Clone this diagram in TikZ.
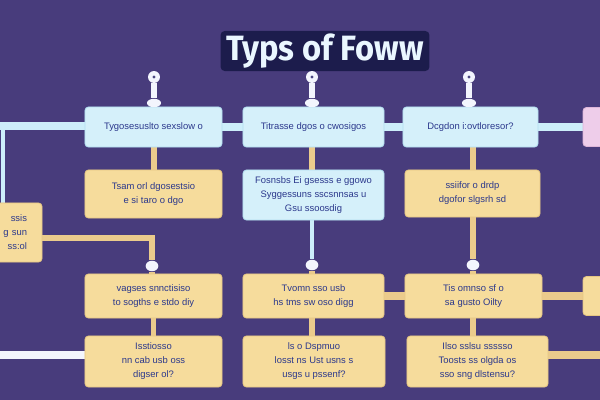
\documentclass[tikz,border=0pt]{standalone}
\usepackage{fontspec}
\usetikzlibrary{shapes.geometric}
\setmainfont{Liberation Sans}
\newfontfamily\headfont{Fira Sans}
\definecolor{bg}{HTML}{483C7C}
\definecolor{skyfill}{HTML}{D5F0FA}
\definecolor{skyedge}{HTML}{B2DDEF}
\definecolor{sandfill}{HTML}{F6DC9C}
\definecolor{sandedge}{HTML}{E6C683}
\definecolor{pinkfill}{HTML}{EECDEA}
\definecolor{pinkedge}{HTML}{DDB6D9}
\definecolor{tanlink}{HTML}{EBCB8C}
\definecolor{skylink}{HTML}{CDEEFA}
\definecolor{pinwhite}{HTML}{F3F5FD}
\definecolor{pindot}{HTML}{4A4680}
\definecolor{ink}{HTML}{2B388C}
\definecolor{headshade}{HTML}{1C1C4C}
\definecolor{headtext}{HTML}{EAF7FF}
\pgfdeclarelayer{canvas}
\pgfdeclarelayer{links}
\pgfsetlayers{canvas,links,main}
\begin{document}
\begin{tikzpicture}[x=0.025cm,y=-0.025cm,
  box/.style={rounded corners=2.5pt, align=center, text=ink, inner sep=1pt,
    line width=0.6pt, font=\fontsize{6.7}{10}\selectfont},
  skybox/.style={box, fill=skyfill, draw=skyedge},
  sandbox/.style={box, fill=sandfill, draw=sandedge},
  pinkbox/.style={box, fill=pinkfill, draw=pinkedge},
  tan/.style={draw=tanlink, line width=3.6pt},
  tanwide/.style={draw=tanlink, line width=5pt},
  sky/.style={draw=skylink, line width=5pt},
  skythin/.style={draw=skylink, line width=3pt},
  pinhead/.style={circle, fill=pinwhite, inner sep=0pt, minimum size=8.5pt,
    path picture={\fill[pindot] (path picture bounding box.center) circle (1.2pt);}},
  pinfoot/.style={ellipse, fill=pinwhite, inner sep=0pt, minimum width=10pt, minimum height=6pt},
  knob/.style={ellipse, fill=pinwhite, inner sep=0pt, minimum width=9pt, minimum height=7.5pt},
]
\useasboundingbox (0,0) rectangle (600,400);
\begin{pgfonlayer}{canvas}
  \fill[bg] (0,0) rectangle (600,400);
\end{pgfonlayer}

% heading
\node[fill=headshade, rounded corners=3pt, inner xsep=4pt, inner ysep=2pt,
      text=headtext, font=\headfont\bfseries\fontsize{25}{25}\selectfont] (title)
  at (325,51) {\scalebox{0.93}[1]{Typs of Foww}};

% first row
\node[skybox, minimum width=3.425cm, minimum height=1cm] (b11) at (153.5,127)
  {Tygosesuslto sexslow o};
\node[skybox, minimum width=3.525cm, minimum height=1cm] (b12) at (313.5,127)
  {Titrasse dgos o cwosigos};
\node[skybox, minimum width=3.375cm, minimum height=1cm] (b13) at (470.5,127)
  {Dcgdon i:ovtloresor?};
\node[pinkbox, minimum width=0.75cm, minimum height=0.975cm] (p1) at (598,127) {};

% second row
\node[sandbox, minimum width=3.425cm, minimum height=1.2cm] (b21) at (153.5,194)
  {Tsam orl dgosestsio\\e si taro o dgo};
\node[skybox, minimum width=3.525cm, minimum height=1.25cm] (b22) at (313.5,195)
  {Fosnsbs Ei gsesss e ggowo\\Syggessuns sscsnnsas u\\Gsu ssoosdig};
\node[sandbox, minimum width=3.375cm, minimum height=1.175cm] (b23) at (472.5,193.5)
  {ssiifor o drdp\\dgofor slgsrh sd};
% box running off the left edge, its text kept in the part that shows
\node[sandbox, align=right, text width=1.3cm, inner xsep=0.375cm,
      minimum height=1.475cm] (lb) at (1,232.5)
  {ssis\\g sun\\ss:ol};

% third row
\node[sandbox, minimum width=3.425cm, minimum height=1.1cm] (b31) at (153.5,296)
  {vagses snnctisiso\\to sogths e stdo diy};
\node[sandbox, minimum width=3.525cm, minimum height=1.1cm] (b32) at (313.5,296)
  {Tvomn sso usb\\hs tms sw oso digg};
\node[sandbox, minimum width=3.425cm, minimum height=1.1cm] (b33) at (473.5,296)
  {Tis omnso sf o\\sa gusto Oilty};
\node[sandbox, minimum width=0.75cm, minimum height=0.975cm] (r3) at (598,296) {};

% fourth row
\node[sandbox, minimum width=3.425cm, minimum height=1.275cm] (b41) at (153.5,361.5)
  {Isstiosso\\nn cab usb oss\\digser ol?};
\node[sandbox, minimum width=3.55cm, minimum height=1.275cm] (b42) at (314,361.5)
  {ls o Dspmuo\\losst ns Ust usns s\\usgs u pssenf?};
\node[sandbox, minimum width=3.525cm, minimum height=1.275cm] (b43) at (477.5,361.5)
  {Ilso sslsu ssssso\\Toosts ss olgda os\\sso sng dlstensu?};

% pins above the first row
\node[pinhead] (t1) at (154,77) {};
\node[pinhead] (t2) at (312,77) {};
\node[pinhead] (t3) at (469,77) {};
\node[pinfoot] (f1) at (154,103) {};
\node[pinfoot] (f2) at (312,103) {};
\node[pinfoot] (f3) at (469,103) {};

% knobs where links enter the third row
\node[knob] (k1) at (152,266) {};
\node[knob] (k2) at (312,265) {};
\node[knob] (k3) at (473,265) {};

% loose ends at the picture edges
\coordinate (cl) at (3,126);
\coordinate (e1) at (152,238);
\coordinate (w0) at (0,355);
\coordinate (e0) at (600,355);

\begin{pgfonlayer}{links}
  % pin stems
  \draw[draw=pinwhite, line width=4pt] (t1) -- (f1);
  \draw[draw=pinwhite, line width=4pt] (t2) -- (f2);
  \draw[draw=pinwhite, line width=4pt] (t3) -- (f3);
  % top rail
  \draw[skythin] (lb.north -| cl) -- (cl);
  \draw[sky] ([xshift=-2pt]cl) -- (b11.west |- cl);
  \draw[sky] (b11) -- (b12);
  \draw[sky] (b12) -- (b13);
  \draw[sky] (b13) -- (p1);
  % first to second row
  \draw[tan] (b11.south -| t1) -- (b21.north -| t1);
  \draw[tan] (b12.south -| t2) -- (b22.north -| t2);
  \draw[tan] (b13.south -| k3) -- (b23.north -| k3);
  % second to third row
  \draw[tan] (lb.east |- e1) -- (e1) -- (k1);
  \draw[tan] (k1) -- (b31.north -| k1);
  \draw[skythin] (b22.south -| k2) -- (k2);
  \draw[tan] (k2) -- (b32.north -| k2);
  \draw[tan] (b23.south -| k3) -- (k3);
  \draw[tan] (k3) -- (b33.north -| k3);
  % third row, across
  \draw[tanwide] (b32) -- (b33);
  \draw[tanwide] (b33) -- (r3);
  % third to fourth row
  \draw[tan] (b31) -- (b41);
  \draw[tan] (b32.south -| k2) -- (b42.north -| k2);
  \draw[tan] (b33.south -| k3) -- (b43.north -| k3);
  % fourth row out to the edges
  \draw[draw=pinwhite, line width=5pt] (w0) -- (b41.west |- w0);
  \draw[tanwide] (b43.east |- e0) -- (e0);
\end{pgfonlayer}
\end{tikzpicture}
\end{document}
